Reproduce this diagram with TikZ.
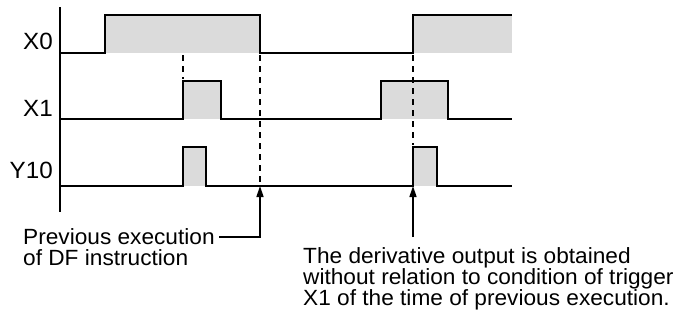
\documentclass[tikz,border=0pt]{standalone}
\usepackage{fontspec}
\setmainfont[FakeStretch=1.03]{Liberation Sans}
\usetikzlibrary{arrows.meta}
\begin{document}
\begin{tikzpicture}[x=1pt,y=-1pt,
  sig/.style={line width=1.6pt,line join=miter},
  hi/.style={fill=black!14,draw=none},
  guide/.style={line width=1.4pt,dash pattern=on 6pt off 5pt},
  ptr/.style={line width=1.4pt,-{Triangle[width=7pt,length=11pt]}},
  lab/.style={anchor=east,inner sep=0pt,font=\fontsize{23.5}{23.5}\selectfont},
  note/.style={anchor=base west,inner sep=0pt,align=left,font=\fontsize{22}{21}\selectfont}]
\useasboundingbox (0,0) rectangle (680,330);
% high-level fills
\fill[hi] (105,15) rectangle (260,53);
\fill[hi] (413,15) rectangle (512,53);
\fill[hi] (183,81) rectangle (221,119);
\fill[hi] (381,81) rectangle (448,119);
\fill[hi] (183,147) rectangle (206,186);
\fill[hi] (413,147) rectangle (437,186);
% axis
\draw[sig] (60,7) -- (60,212);
% waveforms
\draw[sig] (60,53) -- (105,53) -- (105,15) -- (260,15) -- (260,53) -- (413,53) -- (413,15) -- (512,15);
\draw[sig] (60,119) -- (183,119) -- (183,81) -- (221,81) -- (221,119) -- (381,119) -- (381,81) -- (448,81) -- (448,119) -- (512,119);
\draw[sig] (60,186) -- (183,186) -- (183,147) -- (206,147) -- (206,186) -- (413,186) -- (413,147) -- (437,147) -- (437,186) -- (512,186);
% labels
\node[lab] (x0) at (53,41) {X0};
\node[lab] (x1) at (53,108) {X1};
\node[lab] (y10) at (53,170) {Y10};
% guide lines
\coordinate (g1a) at (183,55);
\coordinate (g1b) at (183,79);
\coordinate (g2a) at (260,55);
\coordinate (g2b) at (260,186);
\coordinate (g3a) at (413,55);
\coordinate (g3b) at (413,145);
\draw[guide] (g1a) -- (g1b);
\draw[guide] (g2a) -- (g2b);
\draw[guide] (g3a) -- (g3b);
% notes (base anchor = baseline of last line)
\node[note] (prev) at (23,265) {Previous execution\\of DF instruction};
\node[note] (deriv) at (303,305) {The derivative output is obtained\\without relation to condition of trigger\\X1 of the time of previous execution.};
\coordinate (t1) at (260,186);
\coordinate (t2) at (413,186);
\coordinate (c1) at (219,237);
\coordinate (c2) at (413,237);
\draw[ptr] (c1) -- (260,237) -- (t1);
\draw[ptr] (c2) -- (t2);
\end{tikzpicture}
\end{document}
